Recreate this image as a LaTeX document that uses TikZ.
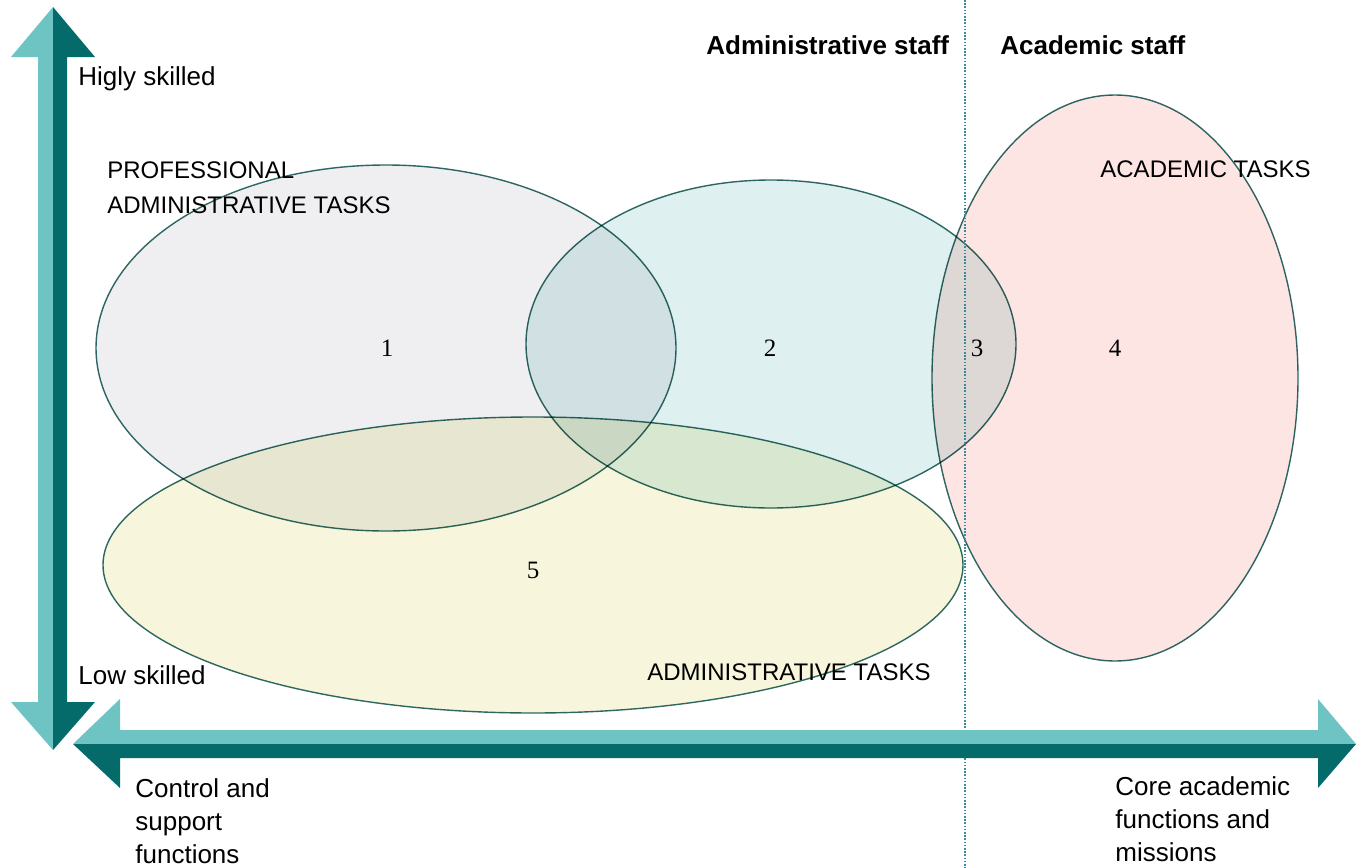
\documentclass[tikz,border=0pt]{standalone}
\usepackage{fontspec}
\setmainfont{Liberation Sans}
\newfontfamily\numfont{Liberation Serif}
\usetikzlibrary{shapes.geometric}
\definecolor{tealdark}{HTML}{046A6A}
\definecolor{teallight}{HTML}{6EC3C3}
\definecolor{rimcolor}{HTML}{2F6A66}
\definecolor{dotcolor}{HTML}{3A8A9A}
\definecolor{profgrey}{HTML}{EFEFF2}
\definecolor{midblue}{HTML}{DFF0F0}
\definecolor{acadpink}{HTML}{FDE5E4}
\definecolor{admyellow}{HTML}{F7F6DC}

\begin{document}
\begin{tikzpicture}
  [x=0.5pt, y=-0.5pt,
   blob/.style={ellipse, draw=rimcolor, line width=0.7pt, inner sep=0pt, outer sep=0pt},
   lbl/.style={font=\fontsize{13}{16.5}\selectfont, anchor=base west, inner sep=0pt, align=left},
   caps/.style={font=\fontsize{12}{17.5}\selectfont, anchor=base west, inner sep=0pt, align=left},
   staff/.style={font=\bfseries\fontsize{13}{16}\selectfont, anchor=base west, inner sep=0pt},
   num/.style={font=\numfont\fontsize{12.5}{14}\selectfont, anchor=base, inner sep=0pt}]
  \useasboundingbox[fill=white] (0,0) rectangle (1356,868);
  \begin{scope}[blend mode=multiply]
    \node [blob, fill=profgrey, minimum width=290pt, minimum height=183pt] (prof) at (386,348) {};
    \node [blob, fill=midblue, minimum width=245pt, minimum height=164pt] (mid) at (771,344) {};
    \node [blob, fill=acadpink, minimum width=183pt, minimum height=283pt] (acad) at (1115,378) {};
    \node [blob, fill=admyellow, minimum width=430pt, minimum height=148pt] (adm) at (533,565) {};
  \end{scope}
  \coordinate (splittop) at (965,0);
  \coordinate (splitbot) at (965,868);
  \draw [dotcolor, line width=0.7pt, dash pattern=on 0.8pt off 0.8pt] (splittop) -- (splitbot);
  \fill [teallight] (53,7) -- (11,57) -- (38,57) -- (38,702) -- (11,702) -- (53,750) -- cycle;
  \fill [tealdark] (53,7) -- (95,57) -- (67,57) -- (67,702) -- (95,702) -- (53,750) -- cycle;
  \fill [teallight] (73,744) -- (120,699) -- (120,730) -- (1318,730) -- (1318,699) -- (1356,744) -- cycle;
  \fill [tealdark] (73,744) -- (120,788) -- (120,758) -- (1318,758) -- (1318,788) -- (1356,744) -- cycle;
  \node [staff] (admstaff) at (706,54) {Administrative staff};
  \node [staff] (acadstaff) at (1000,54) {Academic staff};
  \node [lbl] (high) at (78,85) {Higly skilled};
  \node [lbl] (low) at (78,684) {Low skilled};
  \node [lbl] (control) at (135,863) {Control and\\support\\functions};
  \node [lbl] (core) at (1115,861) {Core academic\\functions and\\missions};
  \node [caps] (proftxt) at (107,213) {PROFESSIONAL\\ADMINISTRATIVE TASKS};
  \node [caps] (acadtxt) at (1100,177) {ACADEMIC TASKS};
  \node [caps] (admtxt) at (647,680) {ADMINISTRATIVE TASKS};
  \node [num] (one) at (387,356) {1};
  \node [num] (two) at (770,356) {2};
  \node [num] (three) at (977,356) {3};
  \node [num] (four) at (1115,356) {4};
  \node [num] (five) at (533,578) {5};
\end{tikzpicture}
\end{document}
